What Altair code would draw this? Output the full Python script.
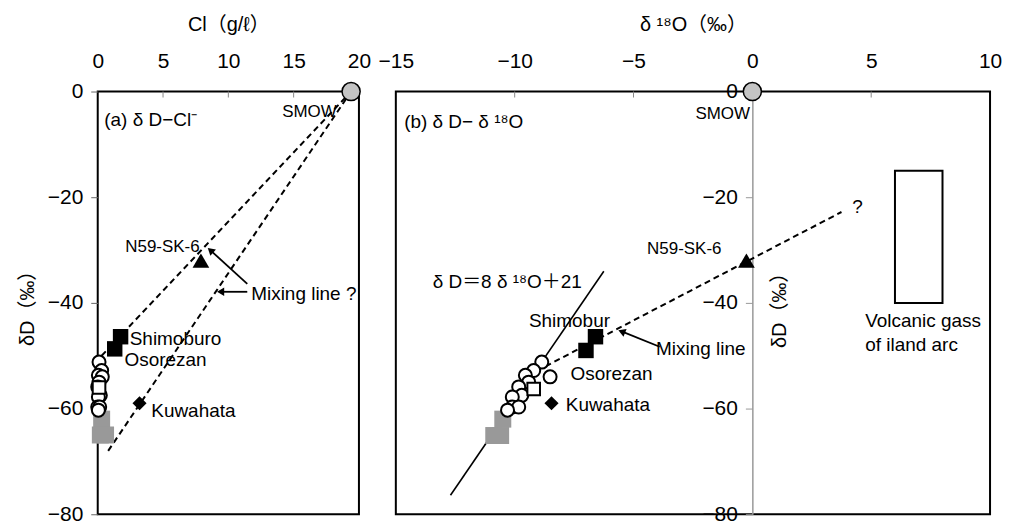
import altair as alt
import pandas as pd

FONT = "Liberation Sans, Noto Sans CJK JP"

# ---------------- Panel (a): dD vs Cl ----------------
a_x_ticks = [0, 5, 10, 15, 20]
a_inner_ticks = [5, 10, 15]
y_ticks = [-80, -60, -40, -20, 0]

a_circle_cl = [0.1, 0.3, 0.05, 0.35, 0.1, 0.0, 0.2, 0.05, 0.0, 0.15, 0.05]
a_circle_dd = [-51.2, -52.8, -53.7, -54.0, -55.0, -55.9, -57.5, -57.8, -59.7, -59.7, -60.3]
a_opensq_cl = [0.1]
a_opensq_dd = [-56.0]
a_gray_cl = [0.3, 0.2, 0.6]
a_gray_dd = [-62.0, -65.0, -65.0]
a_black_cl = [1.75, 1.3]
a_black_dd = [-46.4, -48.7]
a_tri_cl = [7.9]
a_tri_dd = [-32.0]
a_dia_cl = [3.2]
a_dia_dd = [-59.0]
smow_a_cl = [19.4]
smow_a_dd = [0.0]

a_mix_id = ["upper", "upper", "lower", "lower"]
a_mix_cl = [19.4, 0.3, 19.4, 0.8]
a_mix_dd = [0.0, -50.0, 0.0, -68.0]

a_arrow_id = ["a1", "a1", "a2", "a2"]
a_arrow_cl = [11.45, 8.7, 11.45, 9.5]
a_arrow_dd = [-36.4, -30.2, -37.9, -37.9]
a_head_cl = [8.7, 9.5]
a_head_dd = [-30.2, -37.9]
a_head_angle = [312, 270]

a_text = ["(a) δ D−Cl⁻", "Mixing line ?", "Shimoburo", "Osorezan", "Kuwahata"]
a_text_cl = [0.5, 11.75, 2.45, 2.05, 4.1]
a_text_dd = [-5.3, -38.3, -46.8, -50.9, -60.4]
a_rtext = ["SMOW", "N59-SK-6"]
a_rtext_cl = [18.3, 7.8]
a_rtext_dd = [-3.8, -29.4]

# ---------------- Panel (b): dD vs d18O ----------------
b_x_ticks = [-15, -10, -5, 0, 5, 10]
b_inner_ticks = [-10, -5, 5]

b_circle_o = [-8.86, -9.2, -9.55, -8.51, -9.41, -9.83, -9.7, -10.1, -10.1, -9.83, -10.3]
b_circle_dd = [-51.2, -52.8, -53.7, -54.0, -55.0, -55.9, -57.5, -57.8, -59.7, -59.7, -60.3]
b_opensq_o = [-9.2]
b_opensq_dd = [-56.3]
b_gray_o = [-10.5, -10.88, -10.59]
b_gray_dd = [-62.0, -65.1, -65.1]
b_black_o = [-6.6, -7.0]
b_black_dd = [-46.4, -49.0]
b_tri_o = [-0.25]
b_tri_dd = [-32.0]
b_dia_o = [-8.45]
b_dia_dd = [-59.0]
smow_b_o = [0.0]
smow_b_dd = [0.0]

b_mwl_o = [-12.7, -6.25]
b_mwl_dd = [-76.4, -34.0]
b_mix_o = [-8.7, 3.75]
b_mix_dd = [-52.0, -22.8]

b_arrow_o = [-3.9, -5.45]
b_arrow_dd = [-48.3, -45.5]
b_head_o = [-5.45]
b_head_dd = [-45.5]
b_head_angle = [292]

volc_o = [6.0]
volc_o2 = [8.0]
volc_dd = [-15.0]
volc_dd2 = [-40.0]

b_text = ["(b) δ D− δ ¹⁸O", "δ D＝8 δ ¹⁸O＋21", "Shimobur", "Osorezan", "Kuwahata",
          "Mixing line", "?", "Volcanic gass", "of iland arc"]
b_text_o = [-14.65, -13.45, -9.4, -7.65, -7.85, -4.05, 4.2, 4.75, 4.75]
b_text_dd = [-5.7, -36.0, -43.4, -53.4, -59.4, -48.7, -21.9, -43.4, -47.9]
b_rtext = ["SMOW", "N59-SK-6"]
b_rtext_o = [-0.1, -1.3]
b_rtext_dd = [-4.3, -29.8]

W_A, W_B, H = 262, 596, 424
TXT = 19
LAB = 21


def scat(df, shape, size, fill, stroke, sw, X, Y):
    return alt.Chart(df).mark_point(shape=shape, size=size, filled=True, fill=fill,
                                    stroke=stroke, strokeWidth=sw, opacity=1).encode(x=X, y=Y)


def texts(df, align, size, X, Y):
    return (alt.Chart(df).mark_text(align=align, baseline="middle", font=FONT, fontSize=size,
                                    color="black").encode(x=X, y=Y, text="t:N"))


# ---- panel A ----
xa_axis = alt.Axis(orient="top", values=a_x_ticks, ticks=False, domain=False, labelPadding=20,
                   labelFlush=False, labelOverlap=False, title="Cl（g/ℓ）", titlePadding=16,
                   labelFontSize=LAB, titleFontSize=20)
ya_axis = alt.Axis(values=y_ticks, tickSize=7, tickColor="#666", domain=False, labelPadding=8,
                   labelFlush=False, labelOverlap=False, title="δD（‰）", titlePadding=10,
                   labelFontSize=LAB, titleFontSize=20)
XA = alt.X("x:Q", scale=alt.Scale(domain=[0, 20], nice=False, zero=False), axis=xa_axis)
YA = alt.Y("y:Q", scale=alt.Scale(domain=[-80, 0], nice=False, zero=False), axis=ya_axis)

a_layers = [
    alt.Chart(pd.DataFrame({"x": a_inner_ticks})).mark_rule(color="#888", strokeWidth=1)
    .encode(x=XA, y=alt.value(0), y2=alt.value(6)),
    alt.Chart(pd.DataFrame({"id": a_mix_id, "x": a_mix_cl, "y": a_mix_dd}))
    .mark_line(color="black", strokeDash=[6, 4], strokeWidth=2).encode(x=XA, y=YA, detail="id:N"),
    alt.Chart(pd.DataFrame({"id": a_arrow_id, "x": a_arrow_cl, "y": a_arrow_dd}))
    .mark_line(color="black", strokeWidth=1.8).encode(x=XA, y=YA, detail="id:N"),
    alt.Chart(pd.DataFrame({"x": a_head_cl, "y": a_head_dd, "ang": a_head_angle}))
    .mark_point(shape="triangle", size=70, filled=True, color="black", opacity=1)
    .encode(x=XA, y=YA, angle=alt.Angle("ang:Q", scale=None)),
    scat(pd.DataFrame({"x": a_gray_cl, "y": a_gray_dd}), "square", 290, "#999", "#999", 0, XA, YA),
    scat(pd.DataFrame({"x": a_circle_cl, "y": a_circle_dd}), "circle", 170, "white", "black", 2, XA, YA),
    scat(pd.DataFrame({"x": a_opensq_cl, "y": a_opensq_dd}), "square", 160, "white", "black", 2, XA, YA),
    scat(pd.DataFrame({"x": a_black_cl, "y": a_black_dd}), "square", 240, "black", "black", 0, XA, YA),
    scat(pd.DataFrame({"x": a_tri_cl, "y": a_tri_dd}), "triangle-up", 280, "black", "black", 0, XA, YA),
    scat(pd.DataFrame({"x": a_dia_cl, "y": a_dia_dd}), "diamond", 200, "black", "black", 0, XA, YA),
    scat(pd.DataFrame({"x": smow_a_cl, "y": smow_a_dd}), "circle", 330, "#c4c4c4", "black", 1.5, XA, YA),
    texts(pd.DataFrame({"x": a_text_cl, "y": a_text_dd, "t": a_text}), "left", TXT, XA, YA),
    texts(pd.DataFrame({"x": a_rtext_cl, "y": a_rtext_dd, "t": a_rtext}), "right", 17, XA, YA),
]
panel_a = alt.layer(*a_layers).properties(width=W_A, height=H)

# ---- panel B ----
zero_off = -W_B * 15 / 25
xb_axis = alt.Axis(orient="top", values=b_x_ticks, ticks=False, domain=False, labelPadding=20,
                   labelFlush=False, labelOverlap=False, title="δ ¹⁸O（‰）", titlePadding=16,
                   labelFontSize=LAB, titleFontSize=20)
yb_axis = alt.Axis(values=y_ticks, tickSize=7, tickColor="#999", domain=True, domainColor="#999",
                   domainWidth=1.5, offset=zero_off, labelPadding=8, labelFlush=False,
                   labelOverlap=False, title="δD（‰）", titleX=27, titleY=214, titleAngle=270,
                   titleAlign="center", titleBaseline="middle", labelFontSize=LAB, titleFontSize=20)
XB = alt.X("x:Q", scale=alt.Scale(domain=[-15, 10], nice=False, zero=False), axis=xb_axis)
YB = alt.Y("y:Q", scale=alt.Scale(domain=[-80, 0], nice=False, zero=False), axis=yb_axis)

b_layers = [
    alt.Chart(pd.DataFrame({"x": b_inner_ticks})).mark_rule(color="#888", strokeWidth=1)
    .encode(x=XB, y=alt.value(0), y2=alt.value(6)),
    alt.Chart(pd.DataFrame({"x": volc_o, "x2": volc_o2, "y": volc_dd, "y2": volc_dd2}))
    .mark_rect(fill="white", stroke="black", strokeWidth=2)
    .encode(x=XB, x2="x2:Q", y=YB, y2="y2:Q"),
    alt.Chart(pd.DataFrame({"x": b_mwl_o, "y": b_mwl_dd}))
    .mark_line(color="black", strokeWidth=1.6).encode(x=XB, y=YB),
    alt.Chart(pd.DataFrame({"x": b_mix_o, "y": b_mix_dd}))
    .mark_line(color="black", strokeDash=[6, 4], strokeWidth=2).encode(x=XB, y=YB),
    alt.Chart(pd.DataFrame({"x": b_arrow_o, "y": b_arrow_dd}))
    .mark_line(color="black", strokeWidth=1.8).encode(x=XB, y=YB),
    alt.Chart(pd.DataFrame({"x": b_head_o, "y": b_head_dd, "ang": b_head_angle}))
    .mark_point(shape="triangle", size=70, filled=True, color="black", opacity=1)
    .encode(x=XB, y=YB, angle=alt.Angle("ang:Q", scale=None)),
    scat(pd.DataFrame({"x": b_gray_o, "y": b_gray_dd}), "square", 290, "#999", "#999", 0, XB, YB),
    scat(pd.DataFrame({"x": b_circle_o, "y": b_circle_dd}), "circle", 170, "white", "black", 2, XB, YB),
    scat(pd.DataFrame({"x": b_opensq_o, "y": b_opensq_dd}), "square", 160, "white", "black", 2, XB, YB),
    scat(pd.DataFrame({"x": b_black_o, "y": b_black_dd}), "square", 240, "black", "black", 0, XB, YB),
    scat(pd.DataFrame({"x": b_tri_o, "y": b_tri_dd}), "triangle-up", 280, "black", "black", 0, XB, YB),
    scat(pd.DataFrame({"x": b_dia_o, "y": b_dia_dd}), "diamond", 200, "black", "black", 0, XB, YB),
    scat(pd.DataFrame({"x": smow_b_o, "y": smow_b_dd}), "circle", 330, "#c4c4c4", "black", 1.5, XB, YB),
    texts(pd.DataFrame({"x": b_text_o, "y": b_text_dd, "t": b_text}), "left", TXT, XB, YB),
    texts(pd.DataFrame({"x": b_rtext_o, "y": b_rtext_dd, "t": b_rtext}), "right", 17, XB, YB),
]
panel_b = alt.layer(*b_layers).properties(width=W_B, height=H)

chart = (
    alt.hconcat(panel_a, panel_b, spacing=37, bounds="flush")
    .properties(padding={"left": 8, "top": 5, "right": 0, "bottom": 0})
    .configure_view(stroke="black", strokeWidth=2)
    .configure_axis(labelFont=FONT, titleFont=FONT, titleFontWeight="normal", grid=False,
                    labelColor="black", titleColor="black")
)

chart.save("out.html", embed_options={"renderer": "svg", "actions": False})
